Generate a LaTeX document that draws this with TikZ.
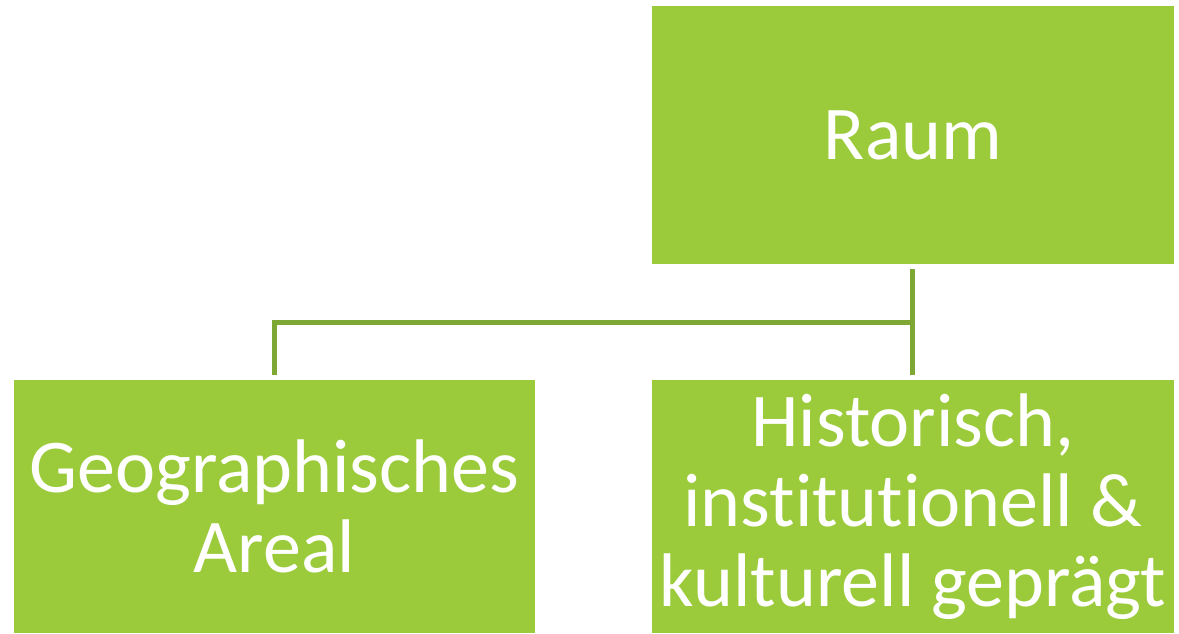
\documentclass[tikz,border=0pt]{standalone}
\usepackage{fontspec}
\setmainfont{Carlito}[Ligatures={NoCommon}]
\definecolor{boxgreen}{HTML}{9BCB3B}
\definecolor{linegreen}{HTML}{7EA733}
\begin{document}
\begin{tikzpicture}[x=1pt,y=-1pt,
  box/.style={fill=boxgreen,draw=none,inner sep=0pt,align=center,text=white,
    font=\fontsize{76}{80}\selectfont},
  conn/.style={draw=linegreen,line width=5pt}]
\useasboundingbox (0,0) rectangle (1179,633);
\node[box,minimum width=522pt,minimum height=258pt] (raum) at (913,135) {Raum};
\node[box,minimum width=521pt,minimum height=253pt] (geo) at (274.5,506.5) {Geographisches\\Areal};
\node[box,minimum width=522pt,minimum height=253pt] (hist) at (913,506.5) {Historisch,\\institutionell \&\\kulturell geprägt};
\coordinate (top) at (912.5,269);
\coordinate (mid) at (912.5,322.5);
\coordinate (left) at (274.5,322.5);
\coordinate (lbot) at (274.5,375);
\coordinate (rbot) at (912.5,375);
\draw[conn] (top) -- (rbot);
\draw[conn] (mid) -- (left) -- (lbot);
\end{tikzpicture}
\end{document}
